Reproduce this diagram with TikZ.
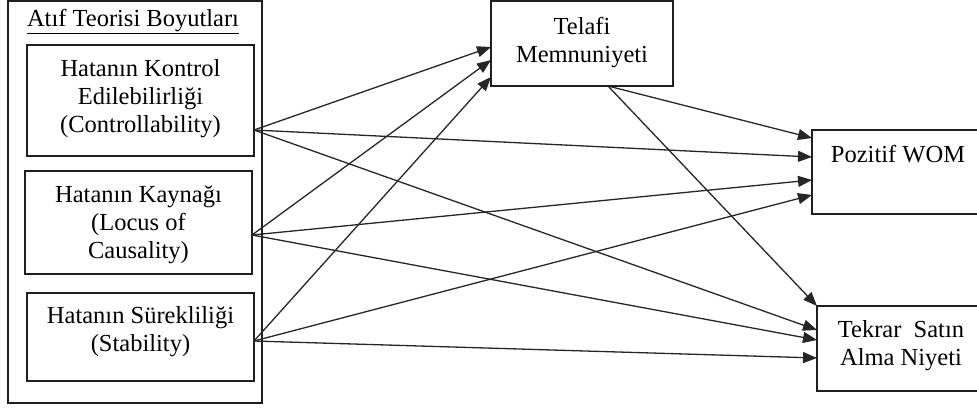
\documentclass[tikz,border=0pt]{standalone}
\usepackage{fontspec}
\setmainfont{Liberation Serif}
\usetikzlibrary{arrows.meta}
\tikzset{
  box/.style={draw=black!88, line width=1.3pt, inner sep=0pt, minimum width=#1},
  lbl/.style={align=center, inner sep=0pt, font=\fontsize{24.5}{28}\selectfont},
  link/.style={draw=black!85, line width=1.3pt, -{Triangle[length=14pt,width=11pt]}},
}
\begin{document}
\begin{tikzpicture}[x=1pt,y=-1pt]
\useasboundingbox (0,0) rectangle (977,407);
% outer frame for the attribution dimensions
\node[box=254pt, minimum height=402pt] (frame) at (135,202) {};
\node[lbl] (title) at (133,22) {\underline{Atıf Teorisi Boyutları}};
% three dimension boxes
\node[box=227pt, minimum height=111pt] (b1) at (140.5,100.5) {};
\node[lbl] (t1) at (140.5,99) {Hatanın Kontrol\\Edilebilirliği\\(Controllability)};
\node[box=227pt, minimum height=103pt] (b2) at (138.5,222.5) {};
\node[lbl] (t2) at (138.5,225) {Hatanın Kaynağı\\(Locus of\\Causality)};
\node[box=227pt, minimum height=88pt] (b3) at (140.5,337) {};
\node[lbl] (t3) at (140.5,332) {Hatanın Sürekliliği\\(Stability)};
% outcome boxes
\node[box=182pt, minimum height=85pt] (tel) at (582,43.5) {};
\node[lbl] (ttel) at (582,43) {Telafi\\Memnuniyeti};
\node[box=190pt, minimum height=84pt] (wom) at (907,172) {};
\node[lbl] (twom) at (898,154) {Pozitif WOM};
\node[box=190pt, minimum height=85pt] (tsn) at (912,348.5) {};
\node[lbl] (ttsn) at (901,346) {Tekrar\ \ Satın\\Alma Niyeti};
% ports
\coordinate (s1) at (254,130);
\coordinate (s2) at (252,235);
\coordinate (s3) at (254,341);
\coordinate (s4) at (608,86);
\coordinate (te1) at (491,47);
\coordinate (te2) at (491,60);
\coordinate (te3) at (491,77);
\coordinate (w0) at (812,138);
\coordinate (w1) at (812,157);
\coordinate (w2) at (812,180);
\coordinate (w3) at (812,195);
\coordinate (k0) at (817,306);
\coordinate (k1) at (817,330);
\coordinate (k2) at (817,340);
\coordinate (k3) at (817,358);
% paths
\draw[link] (s1) -- (te1);
\draw[link] (s2) -- (te2);
\draw[link] (s3) -- (te3);
\draw[link] (s4) -- (w0);
\draw[link] (s4) -- (k0);
\draw[link] (s1) -- (w1);
\draw[link] (s2) -- (w2);
\draw[link] (s3) -- (w3);
\draw[link] (s1) -- (k1);
\draw[link] (s2) -- (k2);
\draw[link] (s3) -- (k3);
\end{tikzpicture}
\end{document}
